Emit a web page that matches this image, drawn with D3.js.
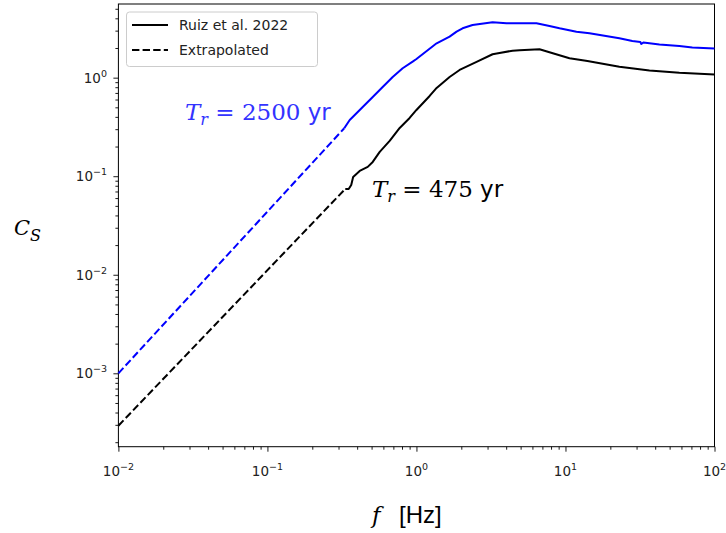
<!DOCTYPE html>
<html>
<head>
<meta charset="utf-8">
<script src="https://cdn.jsdelivr.net/npm/d3@7"></script>
<style>
  html, body { margin: 0; padding: 0; background: #fff; }
  svg { display: block; }
</style>
</head>
<body>
<svg id="chart" width="726" height="533"></svg>
<script>
// Seismic coefficient spectra, C_S vs frequency (log-log)
const freq475 = [0.333, 0.351, 0.365, 0.376, 0.416, 0.471, 0.509, 0.567, 0.661, 0.772, 0.900, 1.00, 1.226, 1.366,
                 1.669, 1.948, 2.532, 3.242, 3.61, 4.415, 4.917, 6.695, 8.22, 10.64, 14.04, 23.0, 36.6, 58.1, 100];
const cs475   = [0.0743, 0.0743, 0.0816, 0.0984, 0.1132, 0.1243, 0.1396, 0.1764, 0.228, 0.309, 0.390, 0.470, 0.652, 0.786,
                 1.016, 1.197, 1.443, 1.727, 1.78, 1.878, 1.90, 1.941, 1.768, 1.573, 1.477, 1.293, 1.183, 1.124, 1.078];

const freq2500 = [0.3277, 0.3353, 0.3566, 0.436, 0.509, 0.5935, 0.6927, 0.8082, 0.943, 1.00, 1.366, 1.669, 1.859, 2.04,
                  2.38, 3.242, 4.02, 6.39, 7.81, 9.12, 11.85, 14.49, 23.0, 28.1, 31.8, 32.3, 33.3, 42.7, 58.1, 71.0, 100];
const cs2500   = [0.3067, 0.3237, 0.3724, 0.5045, 0.637, 0.805, 1.016, 1.245, 1.453, 1.548, 2.233, 2.605, 2.928, 3.17,
                  3.423, 3.646, 3.562, 3.562, 3.345, 3.17, 2.928, 2.82, 2.51, 2.356, 2.302, 2.197, 2.275, 2.171, 2.097, 2.025, 1.978];

// Power-law extrapolation below the first tabulated frequency
const freqExtrap475  = [0.01, 0.333];
const csExtrap475    = [0.000294, 0.0743];
const freqExtrap2500 = [0.01, 0.3277];
const csExtrap2500   = [0.001, 0.3067];

const xTickExps = [-2, -1, 0, 1, 2];
const yTickExps = [-3, -2, -1, 0];
const legendLabels = ["Ruiz et al. 2022", "Extrapolated"];

const svg = d3.select("#chart");
const plotLeft = 118.4, plotRight = 714.5, plotTop = 4, plotBottom = 446.7;

const x = d3.scaleLog().domain([0.01, 100]).range([plotLeft, plotRight]);
const y = d3.scaleLog().domain([1.80e-4, 5.59]).range([plotBottom, plotTop]);

// minor tick values
function minors(lo, hi) {
  const out = [];
  for (let e = lo; e <= hi; e++) for (let m = 2; m <= 9; m++) out.push(m * Math.pow(10, e));
  return out;
}

// x axis
const gx = svg.append("g").attr("transform", `translate(0,${plotBottom})`);
gx.call(d3.axisBottom(x).tickValues(xTickExps.map(e => Math.pow(10, e))).tickFormat("").tickSize(5).tickSizeOuter(0));
const gxm = svg.append("g").attr("transform", `translate(0,${plotBottom})`);
gxm.call(d3.axisBottom(x).tickValues(minors(-2, 1).filter(v => v <= 100)).tickFormat("").tickSize(3).tickSizeOuter(0));

// y axis
const gy = svg.append("g").attr("transform", `translate(${plotLeft},0)`);
gy.call(d3.axisLeft(y).tickValues(yTickExps.map(e => Math.pow(10, e))).tickFormat("").tickSize(5).tickSizeOuter(0));
const gym = svg.append("g").attr("transform", `translate(${plotLeft},0)`);
gym.call(d3.axisLeft(y).tickValues(minors(-4, 0).filter(v => v >= 1.80e-4 && v <= 5.59)).tickFormat("").tickSize(3).tickSizeOuter(0));

svg.selectAll(".tick line").attr("stroke", "#000").attr("stroke-width", 0.9);
svg.selectAll(".domain").remove();

// frame
svg.append("rect").attr("x", plotLeft).attr("y", plotTop).attr("width", plotRight - plotLeft).attr("height", plotBottom - plotTop)
  .attr("fill", "none").attr("stroke", "#000").attr("stroke-width", 1);

// tick labels with superscripts
function powLabel(g, e, px, py, anchor) {
  const t = g.append("text").attr("x", px).attr("y", py).attr("text-anchor", anchor)
    .attr("font-family", "DejaVu Sans, sans-serif").attr("font-size", 13.5).attr("fill", "#222");
  t.append("tspan").text("10");
  t.append("tspan").attr("dy", -6).attr("font-size", 9.5).text(e < 0 ? "\u2212" + (-e) : String(e));
}
const labels = svg.append("g");
xTickExps.forEach(e => powLabel(labels, e, x(Math.pow(10, e)), 476, "middle"));
yTickExps.forEach(e => powLabel(labels, e, 107, y(Math.pow(10, e)) + 5, "end"));

// curves
const line = d3.line().x(d => x(d[0])).y(d => y(d[1]));
const zip = (a, b) => a.map((v, i) => [v, b[i]]);

svg.append("path").datum(zip(freqExtrap2500, csExtrap2500)).attr("d", line)
  .attr("fill", "none").attr("stroke", "#0000ff").attr("stroke-width", 2).attr("stroke-dasharray", "7.4,3.2");
svg.append("path").datum(zip(freqExtrap475, csExtrap475)).attr("d", line)
  .attr("fill", "none").attr("stroke", "#000").attr("stroke-width", 2).attr("stroke-dasharray", "7.4,3.2");
svg.append("path").datum(zip(freq2500, cs2500)).attr("d", line)
  .attr("fill", "none").attr("stroke", "#0000ff").attr("stroke-width", 2).attr("stroke-linejoin", "round");
svg.append("path").datum(zip(freq475, cs475)).attr("d", line)
  .attr("fill", "none").attr("stroke", "#000").attr("stroke-width", 2).attr("stroke-linejoin", "round");

// legend
const lg = svg.append("g");
lg.append("rect").attr("x", 126.5).attr("y", 12).attr("width", 191).attr("height", 54.5).attr("rx", 3)
  .attr("fill", "#fff").attr("fill-opacity", 0.8).attr("stroke", "#ccc").attr("stroke-width", 1);
legendLabels.forEach((lab, i) => {
  const cy = 25 + i * 25;
  lg.append("line").attr("x1", 132).attr("x2", 168).attr("y1", cy).attr("y2", cy)
    .attr("stroke", "#000").attr("stroke-width", 2).attr("stroke-dasharray", i ? "7.4,3.2" : null);
  lg.append("text").attr("x", 179).attr("y", cy + 5).attr("font-family", "DejaVu Sans, sans-serif")
    .attr("font-size", 14).attr("fill", "#222").text(lab);
});

// curve annotations
function trLabel(px, py, value, color) {
  const t = svg.append("text").attr("x", px).attr("y", py).attr("fill", color).attr("font-size", 23);
  t.append("tspan").attr("font-family", "DejaVu Serif, serif").attr("font-style", "italic").text("T");
  t.append("tspan").attr("font-family", "DejaVu Serif, serif").attr("font-style", "italic")
    .attr("font-size", 16).attr("dy", 5).text("r");
  t.append("tspan").attr("font-family", "DejaVu Serif, serif").attr("dy", -5).text(" = " + value + " ");
  t.append("tspan").attr("font-family", "DejaVu Sans, sans-serif").text("yr");
}
trLabel(185, 120, "2500", "#3333ff");
trLabel(372, 197, "475", "#000");

// axis titles
const yl = svg.append("text").attr("x", 14).attr("y", 235).attr("font-family", "DejaVu Serif, serif")
  .attr("font-style", "italic").attr("font-size", 21).attr("fill", "#000");
yl.append("tspan").text("C");
yl.append("tspan").attr("dy", 6).attr("font-size", 16).text("S");

svg.append("text").attr("x", 372).attr("y", 523).attr("font-family", "DejaVu Serif, serif")
  .attr("font-style", "italic").attr("font-size", 23).attr("fill", "#000").text("f");
svg.append("text").attr("x", 399).attr("y", 523).attr("font-family", "Liberation Sans, Arial, sans-serif")
  .attr("font-size", 24).attr("fill", "#000").text("[Hz]");
</script>
</body>
</html>
